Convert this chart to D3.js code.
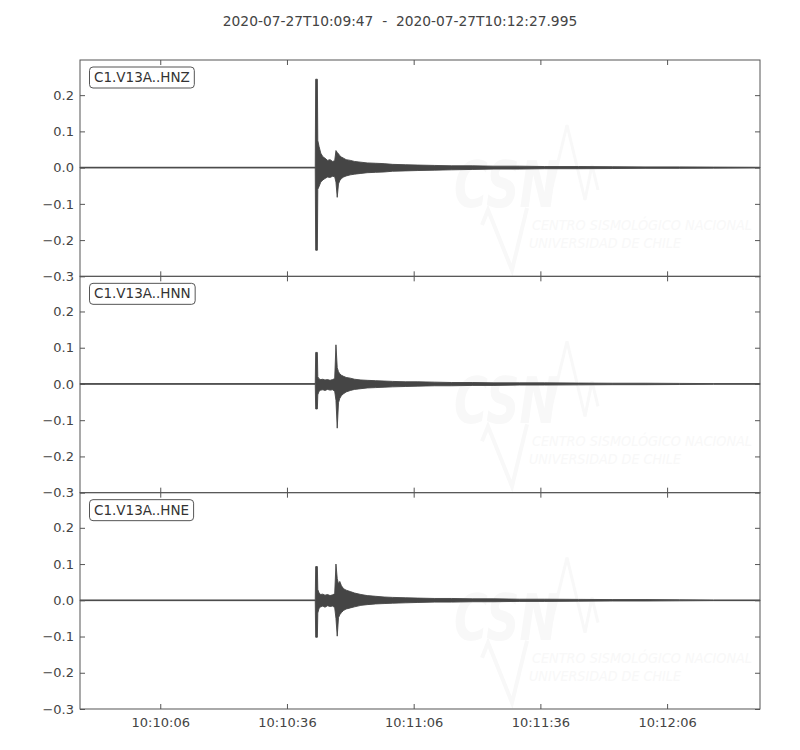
<!DOCTYPE html>
<html>
<head>
<meta charset="utf-8">
<script src="https://cdn.jsdelivr.net/npm/d3@7"></script>
<style>
  body { margin: 0; background: #fff; }
  text { font-family: "DejaVu Sans", sans-serif; }
</style>
</head>
<body>
<svg width="800" height="750"></svg>
<script>
// trace start / end and channel names
var startTime = "2020-07-27T10:09:47.000Z",
    endTime = "2020-07-27T10:12:27.995Z";
var channels = ["C1.V13A..HNZ", "C1.V13A..HNN", "C1.V13A..HNE"];

// x tick labels (every 30 s)
var xTickLabels = ["10:10:06", "10:10:36", "10:11:06", "10:11:36", "10:12:06"];
var yTicks = [0.2, 0.1, 0.0, -0.1, -0.2, -0.3];

// envelope sample times, seconds after start
var envTime = [0, 55.7, 55.8, 56.2, 56.3, 56.6, 57.0, 57.5, 58.0, 58.6, 59.2, 59.8, 60.3, 60.6, 60.9,
  61.2, 61.5, 61.9, 62.4, 63.0, 64.0, 65.0, 66.5, 68.0, 70.0, 72.0, 74.0, 77.0, 80.0, 84.0, 88.0,
  93.0, 98.0, 104, 110, 118, 126, 134, 142, 150, 161];

// upper / lower envelope of each trace
var hnzHigh = [0.001, 0.001, 0.244, 0.244, 0.075, 0.058, 0.040, 0.030, 0.026, 0.020, 0.022, 0.017, 0.019, 0.047, 0.042,
  0.038, 0.033, 0.029, 0.026, 0.022, 0.020, 0.017, 0.015, 0.013, 0.012, 0.011, 0.009, 0.008, 0.007, 0.006, 0.005,
  0.005, 0.004, 0.004, 0.003, 0.003, 0.0025, 0.002, 0.002, 0.0015, 0.001];
var hnzLow = [-0.001, -0.001, -0.228, -0.228, -0.060, -0.052, -0.040, -0.034, -0.030, -0.026, -0.027, -0.024, -0.025, -0.040, -0.082,
  -0.045, -0.036, -0.030, -0.026, -0.023, -0.020, -0.018, -0.016, -0.014, -0.013, -0.012, -0.010, -0.009, -0.008, -0.007, -0.006,
  -0.005, -0.004, -0.004, -0.003, -0.003, -0.0025, -0.002, -0.002, -0.0015, -0.001];

var hnnHigh = [0.001, 0.001, 0.087, 0.087, 0.020, 0.014, 0.012, 0.013, 0.011, 0.012, 0.010, 0.012, 0.015, 0.108, 0.045,
  0.034, 0.028, 0.024, 0.021, 0.018, 0.016, 0.013, 0.011, 0.010, 0.009, 0.008, 0.007, 0.006, 0.006, 0.005, 0.004,
  0.004, 0.003, 0.003, 0.003, 0.0025, 0.002, 0.002, 0.0015, 0.001, 0.001];
var hnnLow = [-0.001, -0.001, -0.069, -0.069, -0.030, -0.020, -0.017, -0.016, -0.018, -0.015, -0.017, -0.016, -0.020, -0.045, -0.122,
  -0.052, -0.040, -0.032, -0.027, -0.022, -0.018, -0.015, -0.013, -0.011, -0.010, -0.009, -0.008, -0.007, -0.006, -0.005, -0.005,
  -0.004, -0.004, -0.003, -0.003, -0.0025, -0.002, -0.002, -0.0015, -0.001, -0.001];

var hneHigh = [0.001, 0.001, 0.093, 0.093, 0.030, 0.020, 0.016, 0.017, 0.014, 0.016, 0.013, 0.015, 0.018, 0.100, 0.060,
  0.045, 0.052, 0.040, 0.032, 0.028, 0.024, 0.020, 0.016, 0.013, 0.011, 0.009, 0.008, 0.007, 0.006, 0.005, 0.005,
  0.004, 0.004, 0.003, 0.003, 0.0025, 0.002, 0.002, 0.0015, 0.001, 0.001];
var hneLow = [-0.001, -0.001, -0.102, -0.102, -0.035, -0.022, -0.018, -0.016, -0.019, -0.015, -0.017, -0.016, -0.020, -0.050, -0.099,
  -0.048, -0.040, -0.034, -0.028, -0.024, -0.021, -0.018, -0.014, -0.012, -0.010, -0.009, -0.008, -0.007, -0.006, -0.005, -0.005,
  -0.004, -0.004, -0.003, -0.003, -0.0025, -0.002, -0.002, -0.0015, -0.001, -0.001];

var highs = [hnzHigh, hnnHigh, hneHigh],
    lows = [hnzLow, hnnLow, hneLow];

var svg = d3.select("svg"),
    margin = {top: 60, right: 40, bottom: 41, left: 80},
    width = +svg.attr("width") - margin.left - margin.right,
    height = +svg.attr("height") - margin.top - margin.bottom,
    panelH = height / channels.length,
    axisColor = "#555",
    textColor = "#444",
    wmColor = "#f8f8f8",
    traceColor = "#454545";

var t0 = new Date(startTime);
var x = d3.scaleUtc()
    .domain([t0, new Date(endTime)])
    .range([0, width]);

var y = d3.scaleLinear()
    .domain([-0.3, 0.297])
    .range([panelH, 0]);

var parseTick = d3.utcParse("%Y-%m-%dT%H:%M:%S");
var xTicks = xTickLabels.map(function(s) { return parseTick("2020-07-27T" + s); });
var fmtY = function(d) { return d3.format(".1f")(d).replace("-", "\u2212"); };

var area = d3.area()
    .x(function(d) { return x(new Date(+t0 + d.t * 1000)); })
    .y0(function(d) { return y(d.lo); })
    .y1(function(d) { return y(d.hi); });

// title
svg.append("text")
    .attr("x", 400)
    .attr("y", 26)
    .attr("text-anchor", "middle")
    .attr("fill", textColor)
    .style("font-size", "13.8px")
    .style("white-space", "pre")
    .text(startTime.replace(".000Z", "") + "  -  " + endTime.replace("Z", ""));

channels.forEach(function(name, i) {
  var g = svg.append("g")
      .attr("transform", "translate(" + margin.left + "," + (margin.top + i * panelH) + ")");

  // faint CSN watermark
  var wm = g.append("g").attr("fill", wmColor);
  wm.append("text")
      .attr("x", 374).attr("y", 147)
      .attr("textLength", 104).attr("lengthAdjust", "spacingAndGlyphs")
      .style("font-size", "64px").style("font-weight", "bold").style("font-style", "italic")
      .text("CSN");
  wm.append("path")
      .attr("d", "M470,135 L487,65 L505,140 L512,105 L518,130")
      .attr("fill", "none").attr("stroke", wmColor).attr("stroke-width", 3);
  wm.append("path")
      .attr("d", "M402,165 L408,150 L432,210 L447,148")
      .attr("fill", "none").attr("stroke", wmColor).attr("stroke-width", 4);
  wm.append("text")
      .attr("x", 452).attr("y", 170)
      .attr("textLength", 220).attr("lengthAdjust", "spacingAndGlyphs")
      .style("font-size", "14px").style("font-style", "italic")
      .text("CENTRO SISMOLÓGICO NACIONAL");
  wm.append("text")
      .attr("x", 449).attr("y", 188)
      .attr("textLength", 152).attr("lengthAdjust", "spacingAndGlyphs")
      .style("font-size", "14px").style("font-style", "italic")
      .text("UNIVERSIDAD DE CHILE");

  // envelope of the trace
  var data = envTime.map(function(t, k) { return {t: t, hi: highs[i][k], lo: lows[i][k]}; });
  g.append("path")
      .datum(data)
      .attr("fill", traceColor)
      .attr("stroke", traceColor)
      .attr("stroke-width", 0.9)
      .attr("stroke-linejoin", "round")
      .attr("d", area);

  // inward ticks on every side
  g.append("g")
      .attr("transform", "translate(0," + panelH + ")")
      .call(d3.axisBottom(x).tickValues(xTicks).tickSizeInner(-5).tickSizeOuter(0).tickPadding(9)
        .tickFormat(i === channels.length - 1 ? d3.utcFormat("%H:%M:%S") : ""))
      .call(style);
  g.append("g")
      .call(d3.axisTop(x).tickValues(xTicks).tickSizeInner(-5).tickSizeOuter(0).tickFormat(""))
      .call(style);
  g.append("g")
      .call(d3.axisLeft(y).tickValues(yTicks).tickSizeInner(-5).tickSizeOuter(0).tickPadding(6).tickFormat(fmtY))
      .call(style);
  g.append("g")
      .attr("transform", "translate(" + width + ",0)")
      .call(d3.axisRight(y).tickValues(yTicks).tickSizeInner(-5).tickSizeOuter(0).tickFormat(""))
      .call(style);

  // frame
  g.append("rect")
      .attr("width", width)
      .attr("height", panelH)
      .attr("fill", "none")
      .attr("stroke", axisColor)
      .attr("stroke-width", 1);

  // channel label box
  var box = g.append("rect");
  var lbl = g.append("text")
      .attr("x", 14)
      .attr("y", 22)
      .attr("fill", "#333")
      .style("font-size", "13.5px")
      .text(name);
  var bb = lbl.node().getBBox();
  box.attr("x", bb.x - 4.5)
      .attr("y", 7)
      .attr("width", bb.width + 9)
      .attr("height", 21)
      .attr("rx", 3.5)
      .attr("fill", "#fff")
      .attr("stroke", axisColor)
      .attr("stroke-width", 1);
});

function style(sel) {
  sel.select(".domain").remove();
  sel.selectAll(".tick line").attr("stroke", axisColor);
  sel.selectAll(".tick text")
      .attr("fill", textColor)
      .style("font-size", "13px")
      .style("font-family", "DejaVu Sans, sans-serif");
}
</script>
</body>
</html>
